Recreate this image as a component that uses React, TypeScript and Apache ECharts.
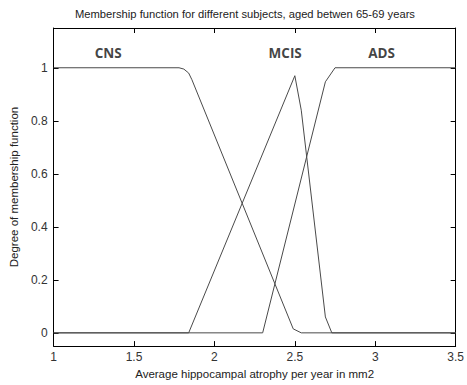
import React, { useEffect, useRef } from "react";
import * as echarts from "echarts";

// Membership curves (x = atrophy, y = degree of membership)
const cnsX = [1, 1.78, 1.81, 1.84, 1.86, 2.49, 2.54, 3.5];
const cnsY = [1, 1, 0.995, 0.98, 0.955, 0.015, 0, 0];

const mcisX = [1, 1.84, 2.5, 2.54, 2.69, 2.73, 3.5];
const mcisY = [0, 0, 0.97, 0.84, 0.06, 0, 0];

const adsX = [1, 2.3, 2.69, 2.75, 3.5];
const adsY = [0, 0, 0.947, 1, 1];

// Class labels written inside the plot
const classNames = ["CNS", "MCIS", "ADS"];
const classX = [1.34, 2.44, 3.04];
const classY = [1.055, 1.055, 1.055];

const zip = (xs: number[], ys: number[]) => xs.map((x, i) => [x, ys[i]]);

const FONT = "Liberation Sans, Arial, sans-serif";
const LINE = "#4a4a4a";

export default function App() {
  const ref = useRef<HTMLDivElement>(null);

  useEffect(() => {
    if (!ref.current) return;
    const chart = echarts.init(ref.current, null, { renderer: "svg" });

    const curve = (name: string, xs: number[], ys: number[]) => ({
      name,
      type: "line",
      data: zip(xs, ys),
      showSymbol: false,
      symbol: "none",
      lineStyle: { color: LINE, width: 1 },
      z: 3,
    });

    const tickStyle = { show: true, inside: true, length: 5, lineStyle: { color: "#000", width: 1 } };
    const lineStyle = { show: true, onZero: false, lineStyle: { color: "#000", width: 1 } };

    chart.setOption({
      animation: false,
      backgroundColor: "#fff",
      title: {
        text: "Membership function for different subjects, aged betwen 65-69 years",
        left: 70,
        top: 3,
        textStyle: { fontFamily: FONT, fontSize: 11.2, fontWeight: "normal", color: "#222" },
      },
      grid: { left: 52, right: 6, top: 28, bottom: 35 },
      xAxis: [
        {
          type: "value",
          min: 1,
          max: 3.5,
          interval: 0.5,
          position: "bottom",
          axisLine: lineStyle,
          axisTick: tickStyle,
          splitLine: { show: false },
          axisLabel: { margin: 5, fontFamily: FONT, fontSize: 12, color: "#333" },
          name: "Average hippocampal atrophy per year in mm2",
          nameLocation: "middle",
          nameGap: 21,
          nameTextStyle: { fontFamily: FONT, fontSize: 11.5, color: "#222" },
        },
        {
          type: "value",
          min: 1,
          max: 3.5,
          interval: 0.5,
          position: "top",
          axisLine: lineStyle,
          axisTick: tickStyle,
          splitLine: { show: false },
          axisLabel: { show: false },
        },
      ],
      yAxis: [
        {
          type: "value",
          min: -0.05,
          max: 1.15,
          splitNumber: 5,
          position: "left",
          axisLine: lineStyle,
          axisTick: tickStyle,
          splitLine: { show: false },
          axisLabel: {
            margin: 6,
            showMinLabel: false,
            showMaxLabel: false,
            fontFamily: FONT,
            fontSize: 12,
            color: "#333",
          },
          name: "Degree of membership function",
          nameLocation: "middle",
          nameGap: 27,
          nameTextStyle: { fontFamily: FONT, fontSize: 11.5, color: "#222" },
        },
        {
          type: "value",
          min: -0.05,
          max: 1.15,
          splitNumber: 5,
          position: "right",
          axisLine: lineStyle,
          axisTick: tickStyle,
          splitLine: { show: false },
          axisLabel: { show: false },
        },
      ],
      series: [
        curve("CNS", cnsX, cnsY),
        curve("MCIS", mcisX, mcisY),
        curve("ADS", adsX, adsY),
        {
          name: "labels",
          type: "scatter",
          symbolSize: 0,
          data: classNames.map((n, i) => ({ name: n, value: [classX[i], classY[i]] })),
          label: {
            show: true,
            position: "inside",
            formatter: (p: any) => p.name,
            fontFamily: "Open Sans, sans-serif",
            fontWeight: "bold",
            fontSize: 13.5,
            color: "#111",
          },
          z: 4,
        },
      ],
    });

    return () => chart.dispose();
  }, []);

  return (
    <div
      ref={ref}
      style={{ position: "fixed", left: 0, top: 0, width: 467, height: 385 }}
    />
  );
}
